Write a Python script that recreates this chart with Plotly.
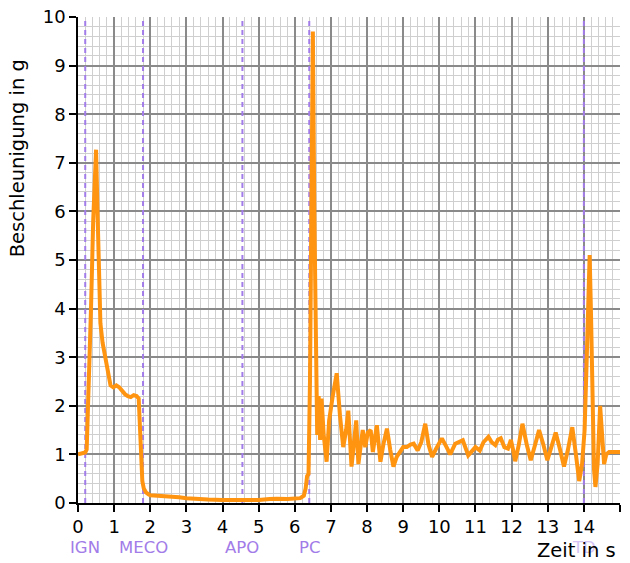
import plotly.graph_objects as go

# Acceleration data (time in s, acceleration in g)
time_s = [0, 0.1, 0.2, 0.24, 0.3, 0.36, 0.42, 0.47, 0.5, 0.54, 0.58, 0.62, 0.68, 0.75, 0.82, 0.9,
          0.98, 1.06, 1.14, 1.22, 1.3, 1.38, 1.46, 1.54, 1.62, 1.68, 1.72, 1.75, 1.78, 1.82, 1.88,
          1.95, 2.0, 2.2, 2.5, 2.8, 3.0, 3.3, 3.6, 4.0, 4.3, 4.6, 5.0, 5.3, 5.5, 5.8, 6.0, 6.15,
          6.25, 6.3, 6.34, 6.38, 6.42, 6.46, 6.5, 6.54, 6.58, 6.62, 6.66, 6.7, 6.74, 6.8, 6.88,
          6.95, 7.05, 7.16, 7.25, 7.34, 7.42, 7.48, 7.57, 7.64, 7.7, 7.76, 7.82, 7.88, 7.95, 8.02,
          8.1, 8.16, 8.27, 8.37, 8.45, 8.55, 8.64, 8.73, 8.82, 8.92, 9.0, 9.1, 9.2, 9.29, 9.4,
          9.5, 9.61, 9.7, 9.8, 9.9, 10.07, 10.2, 10.3, 10.44, 10.55, 10.65, 10.8, 10.92, 11.0,
          11.12, 11.22, 11.36, 11.45, 11.55, 11.62, 11.7, 11.8, 11.9, 11.98, 12.04, 12.1, 12.2,
          12.3, 12.42, 12.53, 12.65, 12.76, 12.88, 12.99, 13.1, 13.22, 13.34, 13.45, 13.56,
          13.68, 13.78, 13.87, 13.95, 14.02, 14.08, 14.12, 14.16, 14.2, 14.24, 14.28, 14.32,
          14.38, 14.45, 14.5, 14.56, 14.62, 14.7, 14.8, 15.0]
accel_g = [1.0, 1.01, 1.04, 1.1, 2.4, 4.0, 5.8, 7.0, 7.27, 6.0, 4.8, 3.7, 3.3, 3.0, 2.7, 2.42,
           2.38, 2.42, 2.38, 2.3, 2.24, 2.2, 2.18, 2.22, 2.2, 2.15, 1.5, 0.8, 0.45, 0.3, 0.22,
           0.18, 0.16, 0.15, 0.14, 0.12, 0.1, 0.08, 0.07, 0.06, 0.06, 0.05, 0.06, 0.08, 0.09,
           0.08, 0.08, 0.1, 0.15, 0.3, 0.55, 0.6, 2.5, 6.5, 9.7, 6.0, 3.0, 1.4, 2.2, 1.3, 2.15,
           1.4, 0.85, 1.7, 2.2, 2.67, 1.8, 1.15, 1.5, 1.9, 0.75, 1.3, 1.7, 0.8, 1.2, 1.5, 1.15,
           1.45, 1.5, 1.05, 1.6, 0.85, 1.2, 1.53, 1.1, 0.75, 0.95, 1.08, 1.15, 1.15, 1.2, 1.22,
           1.08, 1.25, 1.63, 1.2, 0.95, 1.1, 1.33, 1.15, 1.0, 1.22, 1.25, 1.29, 0.98, 1.1, 1.15,
           1.08, 1.25, 1.36, 1.25, 1.19, 1.3, 1.33, 1.15, 1.12, 1.3, 1.1, 0.86, 1.2, 1.63, 1.2,
           0.88, 1.2, 1.5, 1.2, 0.88, 1.15, 1.45, 1.1, 0.75, 1.1, 1.56, 1.0, 0.45, 0.8, 1.5, 3.0,
           4.5, 5.1, 3.8, 2.0, 0.7, 0.33, 0.8, 2.0, 1.5, 0.8, 1.0, 1.05, 1.05, 1.05]

# Flight events
event_names = ["IGN", "MECO", "APO", "PC", "TD"]
event_times = [0.2, 1.8, 4.55, 6.4, 14.0]

x_ticks = list(range(0, 16))
y_ticks = list(range(0, 11))

PURPLE = "#a27ce8"
FONT = "DejaVu Sans"

fig = go.Figure()

for name, t in zip(event_names, event_times):
    fig.add_trace(go.Scatter(
        x=[t, t], y=[y_ticks[0], y_ticks[-1]], mode="lines",
        line=dict(color=PURPLE, width=2, dash="5px,4px"),
        hoverinfo="skip", showlegend=False))

fig.add_trace(go.Scatter(
    x=time_s, y=accel_g, mode="lines",
    line=dict(color="#ff9410", width=4),
    showlegend=False))

for name, t in zip(event_names, event_times):
    fig.add_annotation(
        x=t, xref="x", y=-0.091, yref="paper", text=name, showarrow=False,
        font=dict(family=FONT, size=16.5, color=PURPLE),
        opacity=0.45 if name == "TD" else 1.0,
        xanchor="center", yanchor="middle")

fig.add_annotation(
    x=0.997, xref="paper", y=-0.097, yref="paper", text="Zeit in s", showarrow=False,
    font=dict(family=FONT, size=19.5, color="black"),
    xanchor="right", yanchor="middle")

fig.add_annotation(
    x=-0.11, xref="paper", y=0.71, yref="paper", text="Beschleunigung in g",
    showarrow=False, textangle=-90,
    font=dict(family=FONT, size=19.5, color="black"),
    xanchor="center", yanchor="middle")

fig.update_layout(
    width=630, height=563,
    margin=dict(l=78, r=10, t=17, b=60),
    paper_bgcolor="white", plot_bgcolor="white",
    font=dict(family=FONT, size=18, color="black"),
    xaxis=dict(
        range=[0, 15], tickvals=x_ticks, ticks="outside", ticklen=7, tickwidth=1.5,
        tickcolor="black", showline=True, linecolor="black", linewidth=1.5,
        showgrid=True, gridcolor="#8a8a8a", gridwidth=1.5, zeroline=False,
        minor=dict(dtick=0.2, showgrid=True, gridcolor="#cfcfcf", gridwidth=1),
        tickfont=dict(family=FONT, size=18), automargin=False),
    yaxis=dict(
        range=[0, 10], tickvals=y_ticks, ticks="outside", ticklen=7, tickwidth=1.5,
        tickcolor="black", showline=True, linecolor="black", linewidth=1.5,
        showgrid=True, gridcolor="#8a8a8a", gridwidth=1.5, zeroline=False,
        minor=dict(dtick=0.2, showgrid=True, gridcolor="#cfcfcf", gridwidth=1),
        tickfont=dict(family=FONT, size=18), automargin=False),
)

fig.write_html("out.html", config={"displayModeBar": False},
               post_script="document.body.style.margin='0px';")
